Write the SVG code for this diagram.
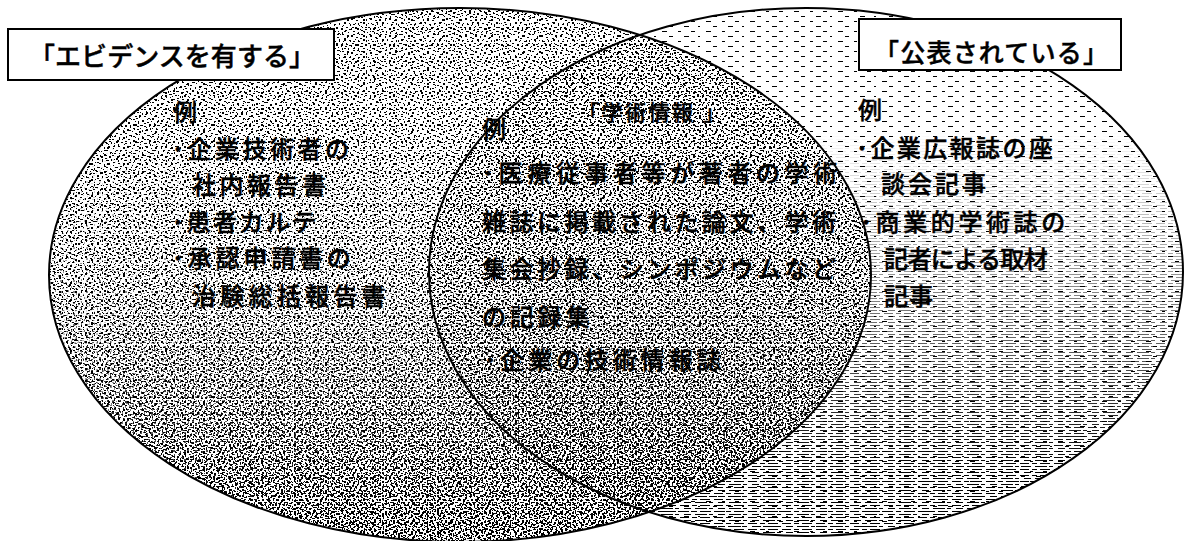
<svg xmlns="http://www.w3.org/2000/svg" width="1184" height="541" viewBox="0 0 1184 541">
<style>
.t{font-family:"Noto Sans CJK JP","Noto Sans CJK SC",sans-serif;font-size:24px;font-weight:500;fill:#000;stroke:#000;stroke-width:0.45px;}
.bx{fill:#fff;stroke:#000;stroke-width:2;}
.edge{fill:none;stroke:#000;stroke-width:2;}
</style>
<defs>
<pattern id="dA" patternUnits="userSpaceOnUse" width="16" height="16">
<path d="M1 2h2v1h-2zM6 0h1v2h-1zM11 3h2v2h-2zM3 7h1v1h-1zM8 6h2v1h-2zM14 8h1v2h-1zM0 11h2v1h-2zM5 12h2v2h-2zM10 11h1v1h-1zM13 13h2v1h-2zM2 15h1v1h-1zM9 14h2v1h-2zM12 0h1v1h-1zM7 9h1v1h-1z"/>
</pattern>
<pattern id="dB" patternUnits="userSpaceOnUse" width="19" height="17">
<path d="M0 0h2v1h-2zM5 2h1v2h-1zM9 1h2v2h-2zM14 3h2v1h-2zM17 0h1v1h-1zM2 5h2v2h-2zM7 6h1v1h-1zM11 7h2v1h-2zM16 6h1v2h-1zM0 9h1v1h-1zM4 10h2v1h-2zM9 11h1v2h-1zM13 10h2v2h-2zM18 12h1v1h-1zM2 14h2v1h-2zM6 15h1v1h-1zM11 14h2v1h-2zM15 16h2v1h-2z"/>
</pattern>
<pattern id="dC" patternUnits="userSpaceOnUse" width="13" height="11">
<path d="M1 1h2v1h-2zM6 0h1v2h-1zM10 2h2v1h-2zM3 4h1v2h-1zM8 5h2v2h-2zM0 7h2v1h-2zM5 8h1v1h-1zM11 7h1v2h-1zM2 10h2v1h-2zM9 9h1v1h-1z"/>
</pattern>
<pattern id="dD" patternUnits="userSpaceOnUse" width="17" height="13">
<path d="M2 0h2v1h-2zM9 1h1v2h-1zM14 0h2v1h-2zM0 4h1v1h-1zM5 4h2v2h-2zM12 5h2v1h-2zM3 8h1v2h-1zM8 9h2v1h-2zM15 8h1v1h-1zM11 11h2v1h-2zM6 12h1v1h-1z"/>
</pattern>
<pattern id="dE" patternUnits="userSpaceOnUse" width="11" height="9">
<path d="M0 0h2v1h-2zM4 1h1v2h-1zM8 0h2v2h-2zM2 4h2v1h-2zM6 5h1v1h-1zM9 4h1v2h-1zM1 7h1v2h-1zM5 7h2v1h-2z"/>
</pattern>
<pattern id="hA" patternUnits="userSpaceOnUse" width="44" height="10">
<path d="M2 1h5v1h-5zM18 1h3v1h-3zM31 1h4v1h-4zM9 6h4v1h-4zM24 6h5v1h-5zM38 6h2v1h-2z"/>
</pattern>
<pattern id="hB" patternUnits="userSpaceOnUse" width="34" height="6">
<path d="M0 1h9v1h-9zM12 1h5v1h-5zM20 1h10v1h-10zM4 4h7v1h-7zM15 4h12v1h-12zM29 4h4v1h-4z"/>
</pattern>
<linearGradient id="gDown" gradientUnits="userSpaceOnUse" x1="0" y1="130" x2="0" y2="470">
<stop offset="0" stop-color="#000"/>
<stop offset="1" stop-color="#fff"/>
</linearGradient>
<linearGradient id="gLow" gradientUnits="userSpaceOnUse" x1="0" y1="280" x2="0" y2="520">
<stop offset="0" stop-color="#000"/>
<stop offset="1" stop-color="#fff"/>
</linearGradient>
<mask id="mDown" maskUnits="userSpaceOnUse" x="0" y="0" width="1184" height="541">
<rect x="0" y="0" width="1184" height="541" fill="url(#gDown)"/>
</mask>
<mask id="mLow" maskUnits="userSpaceOnUse" x="0" y="0" width="1184" height="541">
<rect x="0" y="0" width="1184" height="541" fill="url(#gLow)"/>
</mask>
<mask id="mOutLeft" maskUnits="userSpaceOnUse" x="0" y="0" width="1184" height="541">
<rect x="0" y="0" width="1184" height="541" fill="#fff"/>
<ellipse cx="460" cy="275" rx="411" ry="267" fill="#000"/>
</mask>
<clipPath id="cRight">
<ellipse cx="806" cy="272" rx="377" ry="264"/>
</clipPath>
</defs>

<rect x="0" y="0" width="1184" height="541" fill="#fff"/>

<g id="set-evidence">
<ellipse cx="460" cy="275" rx="411" ry="267" fill="url(#dA)"/>
<ellipse cx="460" cy="275" rx="411" ry="267" fill="url(#dB)"/>
<ellipse cx="460" cy="275" rx="411" ry="267" fill="url(#dC)" mask="url(#mDown)"/>
<ellipse cx="460" cy="275" rx="411" ry="267" fill="url(#dE)" mask="url(#mLow)"/>
</g>
<g id="set-published">
<g mask="url(#mOutLeft)">
<ellipse cx="806" cy="272" rx="377" ry="264" fill="url(#hA)"/>
<ellipse cx="806" cy="272" rx="377" ry="264" fill="url(#hB)" mask="url(#mDown)"/>
</g>
</g>
<g id="set-academic" clip-path="url(#cRight)">
<ellipse cx="460" cy="275" rx="411" ry="267" fill="url(#dD)"/>
</g>
<g id="outlines">
<ellipse class="edge" cx="460" cy="275" rx="411" ry="267"/>
<ellipse class="edge" cx="806" cy="272" rx="377" ry="264"/>
</g>

<g id="label-evidence">
<rect class="bx" x="8" y="29" width="326" height="51"/>
<text class="t" x="29" y="66" style="font-size:26px" textLength="286" lengthAdjust="spacing">「エビデンスを有する」</text>
</g>
<g id="label-published">
<rect class="bx" x="859" y="19" width="262" height="51"/>
<text class="t" x="874" y="62" style="font-size:25px" textLength="234" lengthAdjust="spacing">「公表されている」</text>
</g>

<g id="examples-evidence">
<text class="t" x="173" y="121">例</text>
<text class="t" x="172" y="158" style="letter-spacing:3.5px">･企業技術者の</text>
<text class="t" x="192" y="194" style="letter-spacing:3.5px">社内報告書</text>
<text class="t" x="172" y="231" style="letter-spacing:2.5px">･患者カルテ</text>
<text class="t" x="172" y="267" style="letter-spacing:3.8px">･承認申請書の</text>
<text class="t" x="192" y="305" style="letter-spacing:4.3px">治験総括報告書</text>
</g>

<g id="examples-academic">
<text class="t" x="578" y="120" style="font-size:21px;letter-spacing:2.5px">「学術情報<tspan dx="8">」</tspan></text>
<text class="t" x="482" y="138">例</text>
<text class="t" x="482" y="182" style="letter-spacing:4.6px">･医療従事者等が著者の学術</text>
<text class="t" x="482" y="231" style="letter-spacing:3.5px">雑誌に掲載された論文、学術</text>
<text class="t" x="482" y="278" style="letter-spacing:3.5px">集会抄録、シンポジウムなど</text>
<text class="t" x="482" y="326" style="letter-spacing:3.8px">の記録集</text>
<text class="t" x="484" y="369" style="letter-spacing:4.1px">･企業の技術情報誌</text>
</g>

<g id="examples-published">
<text class="t" x="858" y="119">例</text>
<text class="t" x="856" y="157" style="letter-spacing:2.4px">･企業広報誌の座</text>
<text class="t" x="881" y="193" style="letter-spacing:3px">談会記事</text>
<text class="t" x="860" y="231" style="letter-spacing:3.6px">･商業的学術誌の</text>
<text class="t" x="884" y="268" style="letter-spacing:-0.6px">記者による取材</text>
<text class="t" x="884" y="305" style="letter-spacing:1px">記事</text>
</g>
</svg>
